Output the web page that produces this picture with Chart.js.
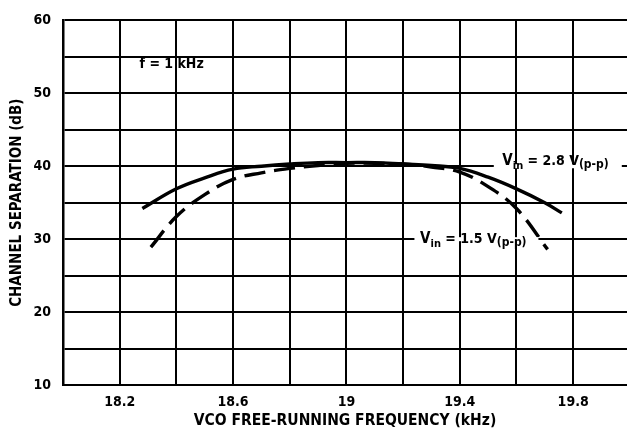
<!DOCTYPE html>
<html>
<head>
<meta charset="utf-8">
<script src="https://cdn.jsdelivr.net/npm/chart.js@4.4.1/dist/chart.umd.min.js"></script>
<style>
  body { margin: 0; background: #fff; }
  #wrap { width: 627px; height: 434px; }
</style>
</head>
<body>
<div id="wrap"><canvas id="sep" width="627" height="434"></canvas></div>
<script>
// curve readings (kHz, dB)
const freqHigh = [18.28, 18.4, 18.5, 18.6, 18.7, 18.8, 18.9, 19.0, 19.1, 19.2, 19.3, 19.4, 19.5, 19.6, 19.7, 19.76];
const sepHigh  = [34.2, 36.9, 38.4, 39.6, 40.0, 40.3, 40.5, 40.5, 40.5, 40.3, 40.1, 39.7, 38.5, 36.9, 35.0, 33.6];

const freqLow = [18.31, 18.4, 18.5, 18.6, 18.7, 18.8, 18.9, 19.0, 19.1, 19.2, 19.3, 19.4, 19.5, 19.6, 19.71];
const sepLow  = [28.9, 33.1, 36.1, 38.2, 39.1, 39.7, 40.1, 40.4, 40.4, 40.3, 39.9, 39.2, 37.2, 34.2, 28.6];

const xTickLabels = [18.2, 18.6, 19, 19.4, 19.8];
const yTickLabels = [10, 20, 30, 40, 50, 60];

const FONT = '"DejaVu Sans Condensed", "Liberation Sans", sans-serif';

function pts(xs, ys) {
  return xs.map((v, i) => ({ x: v, y: ys[i] }));
}

// draws a label with subscript parts, returns end x
function drawParts(ctx, parts, x, y) {
  parts.forEach(p => {
    ctx.font = 'bold ' + p.size + 'px ' + FONT;
    ctx.fillText(p.t, x, y + (p.dy || 0));
    x += ctx.measureText(p.t).width;
  });
  return x;
}

const notes = {
  id: 'notes',
  afterDatasetsDraw(chart) {
    const { ctx, scales: { x, y } } = chart;
    ctx.save();
    ctx.fillStyle = '#fff';
    // gap in the gridlines behind the labels
    let y40 = y.getPixelForValue(40);
    ctx.fillRect(x.getPixelForValue(19.52), y40 - 2, 128, 4);
    let y30 = y.getPixelForValue(30);
    ctx.fillRect(x.getPixelForValue(19.24), y30 - 2, 124, 4);

    ctx.fillStyle = '#000';
    ctx.textBaseline = 'alphabetic';
    ctx.textAlign = 'left';
    drawParts(ctx, [
      { t: 'V', size: 15 }, { t: 'in', size: 11, dy: 4 },
      { t: ' = 2.8 V', size: 14 }, { t: '(p-p)', size: 12, dy: 3 }
    ], x.getPixelForValue(19.55), y40 - 1);
    drawParts(ctx, [
      { t: 'V', size: 15 }, { t: 'in', size: 11, dy: 4 },
      { t: ' = 1.5 V', size: 14 }, { t: '(p-p)', size: 12, dy: 3 }
    ], x.getPixelForValue(19.26), y30 + 4);

    ctx.font = 'bold 14px ' + FONT;
    ctx.fillText('f = 1 kHz', x.getPixelForValue(18.27), y.getPixelForValue(53.5));
    ctx.restore();
  }
};

new Chart(document.getElementById('sep'), {
  type: 'line',
  data: {
    datasets: [
      {
        label: 'Vin = 2.8 V(p-p)',
        data: pts(freqHigh, sepHigh),
        borderColor: '#000',
        borderWidth: 3.4,
        pointRadius: 0,
        tension: 0.4,
        fill: false
      },
      {
        label: 'Vin = 1.5 V(p-p)',
        data: pts(freqLow, sepLow),
        borderColor: '#000',
        borderWidth: 3.4,
        borderDash: [21, 9],
        pointRadius: 0,
        tension: 0.4,
        fill: false
      }
    ]
  },
  options: {
    responsive: false,
    animation: false,
    layout: { padding: { top: 14, right: 0, left: 0, bottom: 0 } },
    plugins: {
      legend: { display: false },
      tooltip: { enabled: false }
    },
    scales: {
      x: {
        type: 'linear',
        min: 18,
        max: 19.99,
        afterFit(s) { s.height = 49; },
        grid: { color: '#000', lineWidth: 2, drawTicks: false },
        border: { color: '#000', width: 2 },
        ticks: {
          stepSize: 0.2,
          includeBounds: false,
          padding: 9,
          color: '#000',
          maxRotation: 0,
          autoSkip: false,
          font: { family: FONT, size: 14, weight: 'bold' },
          callback(v) {
            const r = Math.round(v * 10) / 10;
            return xTickLabels.includes(r) ? String(r) : '';
          }
        },
        title: {
          display: true,
          text: 'VCO FREE-RUNNING FREQUENCY (kHz)',
          color: '#000',
          font: { family: FONT, size: 15.5, weight: 'bold' },
          padding: { top: 0, bottom: 4 }
        }
      },
      y: {
        min: 10,
        max: 60,
        afterFit(s) { s.width = 63; },
        grid: { color: '#000', lineWidth: 2, drawTicks: false },
        border: { color: '#000', width: 2.5 },
        ticks: {
          stepSize: 5,
          padding: 12,
          color: '#000',
          font: { family: FONT, size: 14, weight: 'bold' },
          callback(v) {
            return yTickLabels.includes(v) ? String(v) : '';
          }
        },
        title: {
          display: true,
          text: 'CHANNEL SEPARATION (dB)',
          color: '#000',
          font: { family: FONT, size: 15, weight: 'bold' },
          padding: { top: 8, bottom: 0 }
        }
      }
    }
  },
  plugins: [notes]
});
</script>
</body>
</html>
